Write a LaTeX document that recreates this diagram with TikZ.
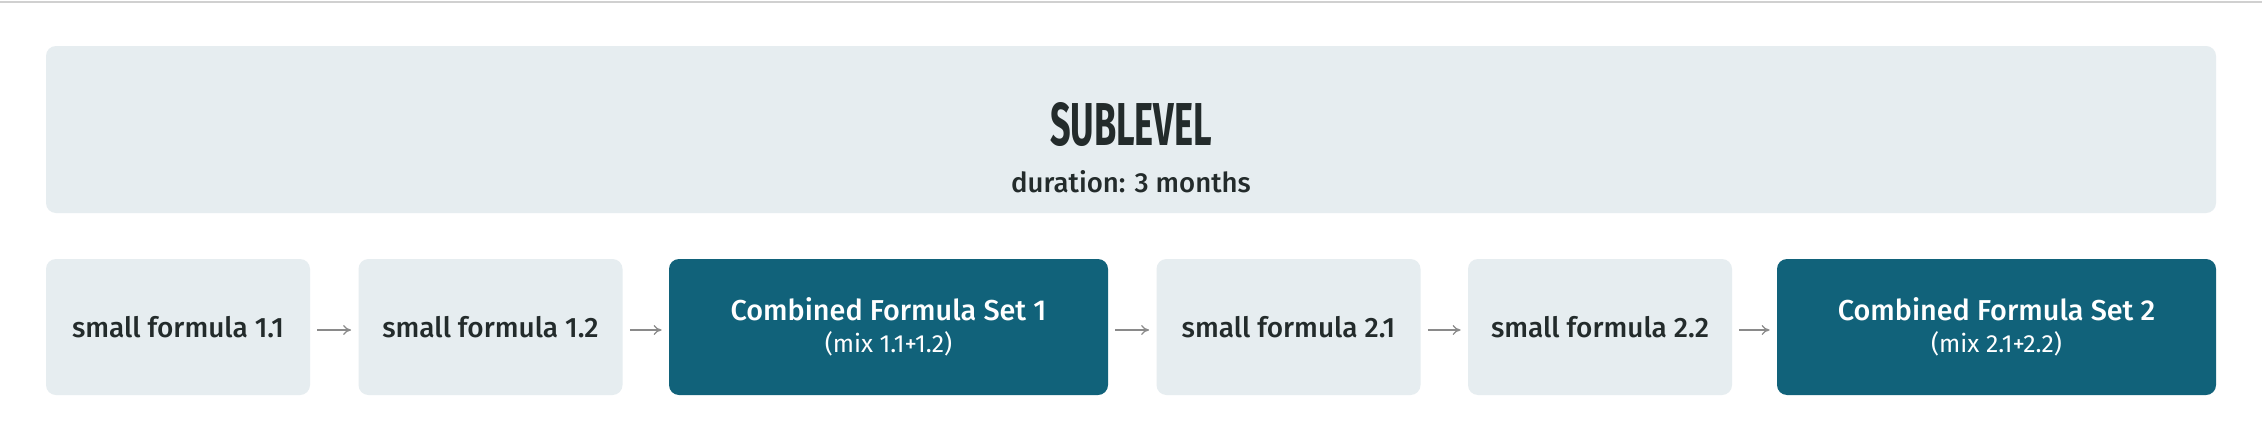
\documentclass[tikz,border=0pt]{standalone}
\usepackage{graphicx}
\usepackage{fontspec}
\setmainfont{Fira Sans}
\newfontfamily\medfont{Fira Sans Medium}
\newfontfamily\lightfont{Fira Sans Light}
\usetikzlibrary{arrows.meta}
\definecolor{paleblue}{HTML}{E6EDF0}
\definecolor{tealbox}{HTML}{11627A}
\definecolor{inkcolor}{HTML}{232B2B}
\definecolor{arrowgray}{HTML}{8A8A8A}
\definecolor{rulegray}{HTML}{D0D0D0}
\newcommand{\smallwid}{132pt}
\newcommand{\mixwid}{219.5pt}
\newcommand{\rowhei}{68pt}

\tikzset{
  levelbox/.style={fill=paleblue, rounded corners=5pt, minimum width=1085pt, minimum height=83.5pt, inner sep=0pt},
  stepbox/.style={fill=paleblue, rounded corners=5pt, minimum width=\smallwid, minimum height=\rowhei, inner sep=0pt,
    text=inkcolor, font=\medfont\fontsize{14}{16}\selectfont},
  mixbox/.style={fill=tealbox, rounded corners=5pt, minimum width=\mixwid, minimum height=\rowhei, inner sep=0pt,
    text=white, align=center},
  flow/.style={->, draw=arrowgray, line width=0.6pt, shorten <=3.5pt, shorten >=3.5pt},
}

\begin{document}
\begin{tikzpicture}[x=0.5pt, y=-0.5pt, >={To[length=4pt, width=5pt]}]
    \useasboundingbox[fill=white] (0,0) rectangle (2262,439);
    \draw[rulegray, line width=1pt] (0,2) -- (2262,2);

    % header
    \node[levelbox] (level) at (1131,129.5) {};
    \node[text=inkcolor, inner sep=0pt] (title) at (1131,125)
        {\resizebox{81pt}{21.5pt}{\bfseries SUBLEVEL}};
    \node[text=inkcolor, font=\medfont\fontsize{13.8}{16}\selectfont] (dur) at (1131,182) {duration: 3 months};

    % steps
    \node[stepbox] (f11) at (178,327) {small formula 1.1};
    \node[stepbox] (f12) at (490.5,327) {small formula 1.2};
    \node[mixbox] (set1) at (888.5,327)
        {{\medfont\fontsize{14.4}{16}\selectfont Combined Formula Set 1}\\[4pt]
         {\fontsize{12.4}{14}\selectfont (mix 1.1+1.2)}};
    \node[stepbox] (f21) at (1288.5,327) {small formula 2.1};
    \node[stepbox] (f22) at (1600,327) {small formula 2.2};
    \node[mixbox] (set2) at (1996.5,327)
        {{\medfont\fontsize{14.4}{16}\selectfont Combined Formula Set 2}\\[4pt]
         {\fontsize{12.4}{14}\selectfont (mix 2.1+2.2)}};

    % arrows
    \draw[flow] ([yshift=-1.5pt]f11.east) -- ([yshift=-1.5pt]f12.west);
    \draw[flow] ([yshift=-1.5pt]f12.east) -- ([yshift=-1.5pt]set1.west);
    \draw[flow] ([yshift=-1.5pt]set1.east) -- ([yshift=-1.5pt]f21.west);
    \draw[flow] ([yshift=-1.5pt]f21.east) -- ([yshift=-1.5pt]f22.west);
    \draw[flow] ([yshift=-1.5pt]f22.east) -- ([yshift=-1.5pt]set2.west);
\end{tikzpicture}
\end{document}
